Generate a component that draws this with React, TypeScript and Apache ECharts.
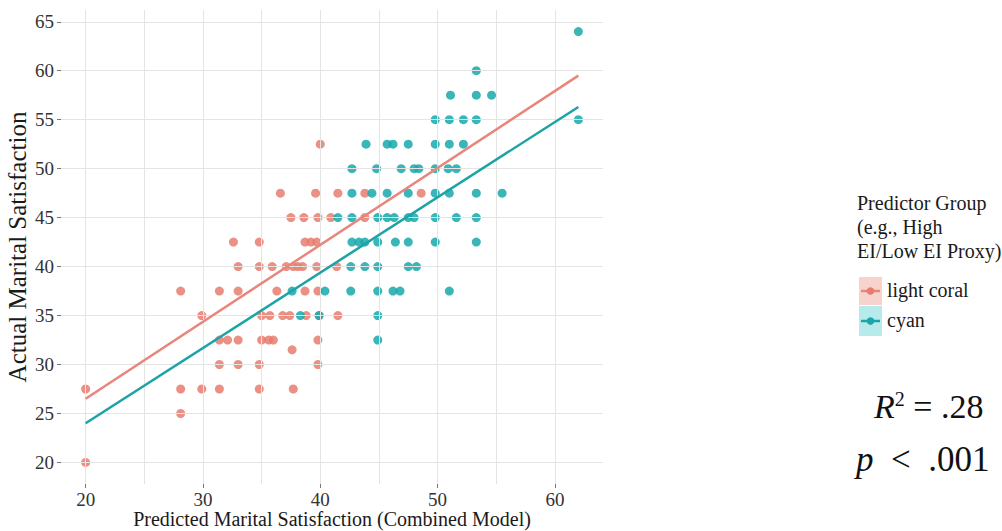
import React, { useEffect, useRef } from "react";
import * as echarts from "echarts";

const coralPoints: [number, number][] = [
  [20, 20],
  [28.1, 25],
  [20, 27.5], [28.1, 27.5], [29.9, 27.5], [31.4, 27.5], [34.8, 27.5], [37.7, 27.5],
  [31.4, 30], [33.0, 30], [34.8, 30], [39.8, 30],
  [37.6, 31.5],
  [31.4, 32.5], [32.1, 32.5], [33.0, 32.5], [35.0, 32.5], [35.6, 32.5], [36.0, 32.5], [39.8, 32.5],
  [29.9, 35], [35.0, 35], [35.7, 35], [36.8, 35], [37.4, 35], [38.8, 35], [39.9, 35], [41.5, 35],
  [28.1, 37.5], [31.4, 37.5], [33.0, 37.5], [36.3, 37.5], [38.7, 37.5], [39.8, 37.5],
  [33.0, 40], [34.8, 40], [35.9, 40], [37.1, 40], [37.7, 40], [38.1, 40], [38.5, 40], [39.7, 40], [41.4, 40],
  [32.6, 42.5], [34.8, 42.5], [38.7, 42.5], [39.2, 42.5], [39.7, 42.5],
  [37.5, 45], [38.6, 45], [39.8, 45], [40.9, 45], [43.8, 45],
  [36.6, 47.5], [39.6, 47.5], [41.5, 47.5], [43.8, 47.5], [48.6, 47.5],
  [40, 52.5],
];

const cyanPoints: [number, number][] = [
  [44.9, 32.5],
  [38.3, 35], [39.9, 35], [44.9, 35],
  [37.6, 37.5], [40.4, 37.5], [42.6, 37.5], [44.9, 37.5], [46.2, 37.5], [46.8, 37.5], [51.0, 37.5],
  [42.6, 40], [43.8, 40], [44.9, 40], [47.5, 40], [48.2, 40],
  [42.7, 42.5], [43.3, 42.5], [43.8, 42.5], [44.9, 42.5], [46.4, 42.5], [47.5, 42.5], [49.8, 42.5], [53.3, 42.5],
  [41.5, 45], [42.7, 45], [44.9, 45], [45.7, 45], [46.3, 45], [47.5, 45], [48.0, 45], [49.8, 45], [51.6, 45], [53.3, 45],
  [42.7, 47.5], [44.4, 47.5], [45.7, 47.5], [47.5, 47.5], [49.8, 47.5], [51.0, 47.5], [53.3, 47.5], [55.5, 47.5],
  [42.7, 50], [44.8, 50], [46.9, 50], [48.0, 50], [48.4, 50], [49.8, 50], [50.9, 50], [51.6, 50],
  [43.9, 52.5], [45.7, 52.5], [46.2, 52.5], [47.5, 52.5], [49.8, 52.5], [51.0, 52.5], [52.2, 52.5],
  [49.8, 55], [51.0, 55], [52.2, 55], [53.3, 55], [62, 55],
  [51.1, 57.5], [53.3, 57.5], [54.6, 57.5],
  [53.3, 60],
  [62, 64],
];

const coralFit: [number, number][] = [[20, 26.5], [62, 59.5]];
const cyanFit: [number, number][] = [[20, 24.0], [62, 56.3]];

const xLabelValues = [20, 30, 40, 50, 60];
const xGridValues = [20, 25, 30, 35, 40, 45, 50, 55, 60];
const yLabelValues = [20, 25, 30, 35, 40, 45, 50, 55, 60, 65];

const legendTitle = ["Predictor Group", "(e.g., High", "EI/Low EI Proxy)"];
const groupNames = ["light coral", "cyan"];

const CORAL = "#E67D6F";
const CYAN = "#18A8AB";
const SERIF = "'Liberation Serif', 'DejaVu Serif', serif";

export default function App() {
  const ref = useRef<HTMLDivElement>(null);
  useEffect(() => {
    if (!ref.current) return;
    const chart = echarts.init(ref.current, undefined, { renderer: "svg" });
    const gridLine = { color: "#E4E4E4", width: 1, type: "solid" as const };
    const k1 = 277;
    const k2 = 306;
    chart.setOption({
      animation: false,
      backgroundColor: "#ffffff",
      textStyle: { fontFamily: SERIF },
      grid: { left: 61, right: 399, top: 10, bottom: 47, containLabel: false, outerBoundsMode: "none" },
      xAxis: {
        type: "value",
        min: 17.9,
        max: 64.1,
        name: "Predicted Marital Satisfaction (Combined Model)",
        nameLocation: "middle",
        nameGap: 25,
        nameMoveOverlap: false,
        nameTextStyle: { fontFamily: SERIF, fontSize: 20, color: "#1a1a1a" },
        axisLine: { show: false },
        axisTick: { show: true, customValues: xLabelValues, length: 4, lineStyle: { color: "#777" } },
        axisLabel: { customValues: xLabelValues, fontFamily: SERIF, fontSize: 19, color: "#333", margin: 6 },
        splitLine: { show: false },
      },
      yAxis: {
        type: "value",
        min: 17.8,
        max: 66.2,
        name: "Actual Marital Satisfaction",
        nameLocation: "middle",
        nameGap: 31,
        nameMoveOverlap: false,
        nameRotate: 90,
        nameTextStyle: { fontFamily: SERIF, fontSize: 25, color: "#1a1a1a" },
        axisLine: { show: false },
        axisTick: { show: true, customValues: yLabelValues, length: 4, lineStyle: { color: "#777" } },
        axisLabel: { customValues: yLabelValues, fontFamily: SERIF, fontSize: 19, color: "#333", margin: 7 },
        splitLine: { show: false },
      },
      series: [
        {
          name: "grid",
          type: "line",
          data: [],
          silent: true,
          markLine: {
            silent: true,
            symbol: "none",
            label: { show: false },
            lineStyle: gridLine,
            data: [
              ...xGridValues.map((v) => ({ xAxis: v })),
              ...yLabelValues.map((v) => ({ yAxis: v })),
            ],
          },
        },
        {
          name: groupNames[0],
          type: "scatter",
          data: coralPoints,
          symbolSize: 9,
          itemStyle: { color: CORAL, opacity: 0.85 },
        },
        {
          name: groupNames[1],
          type: "scatter",
          data: cyanPoints,
          symbolSize: 9,
          itemStyle: { color: CYAN, opacity: 0.85 },
        },
        {
          name: groupNames[0] + " fit",
          type: "line",
          data: coralFit,
          showSymbol: false,
          lineStyle: { color: "#E8867C", width: 2.5 },
          z: 5,
        },
        {
          name: groupNames[1] + " fit",
          type: "line",
          data: cyanFit,
          showSymbol: false,
          lineStyle: { color: "#1CA3A5", width: 2.5 },
          z: 5,
        },
      ],
      graphic: [
        ...legendTitle.map((t, i) => ({
          type: "text",
          left: 857,
          top: 193 + i * 24,
          style: { text: t, font: `20px ${SERIF}`, fill: "#1a1a1a" },
        })),
        { type: "rect", shape: { x: 859, y: k1, width: 23, height: 28 }, style: { fill: "#F8D3CE" } },
        { type: "line", shape: { x1: 861, y1: k1 + 14, x2: 880, y2: k1 + 14 }, style: { stroke: "#E8867C", lineWidth: 2.5 } },
        { type: "circle", shape: { cx: 870.5, cy: k1 + 14, r: 3.8 }, style: { fill: CORAL } },
        { type: "rect", shape: { x: 859, y: k2, width: 23, height: 30 }, style: { fill: "#B6EAEB" } },
        { type: "line", shape: { x1: 861, y1: k2 + 15, x2: 880, y2: k2 + 15 }, style: { stroke: "#1CA3A5", lineWidth: 2.5 } },
        { type: "circle", shape: { cx: 870.5, cy: k2 + 15, r: 3.8 }, style: { fill: CYAN } },
        {
          type: "text",
          left: 887,
          top: k1 + 3,
          style: { text: groupNames[0], font: `20px ${SERIF}`, fill: "#1a1a1a" },
        },
        {
          type: "text",
          left: 887,
          top: k2 + 4,
          style: { text: groupNames[1], font: `20px ${SERIF}`, fill: "#1a1a1a" },
        },
        {
          type: "text",
          left: 874,
          top: 389,
          style: {
            text: "{i|R}{s|2} = .28",
            font: `34px ${SERIF}`,
            fill: "#111",
            rich: {
              i: { fontFamily: SERIF, fontStyle: "italic", fontSize: 34, fill: "#111" },
              s: { fontFamily: SERIF, fontSize: 20, fill: "#111", verticalAlign: "top", padding: [0, 0, 14, 0] },
            },
          },
        },
        {
          type: "text",
          left: 856,
          top: 442,
          style: {
            text: "{i|p}  <  .001",
            font: `35px ${SERIF}`,
            fill: "#111",
            rich: {
              i: { fontFamily: SERIF, fontStyle: "italic", fontSize: 35, fill: "#111" },
            },
          },
        },
      ],
    });
    return () => chart.dispose();
  }, []);
  return (
    <div
      ref={ref}
      style={{ position: "fixed", left: 0, top: 0, width: 1002, height: 531 }}
    />
  );
}
